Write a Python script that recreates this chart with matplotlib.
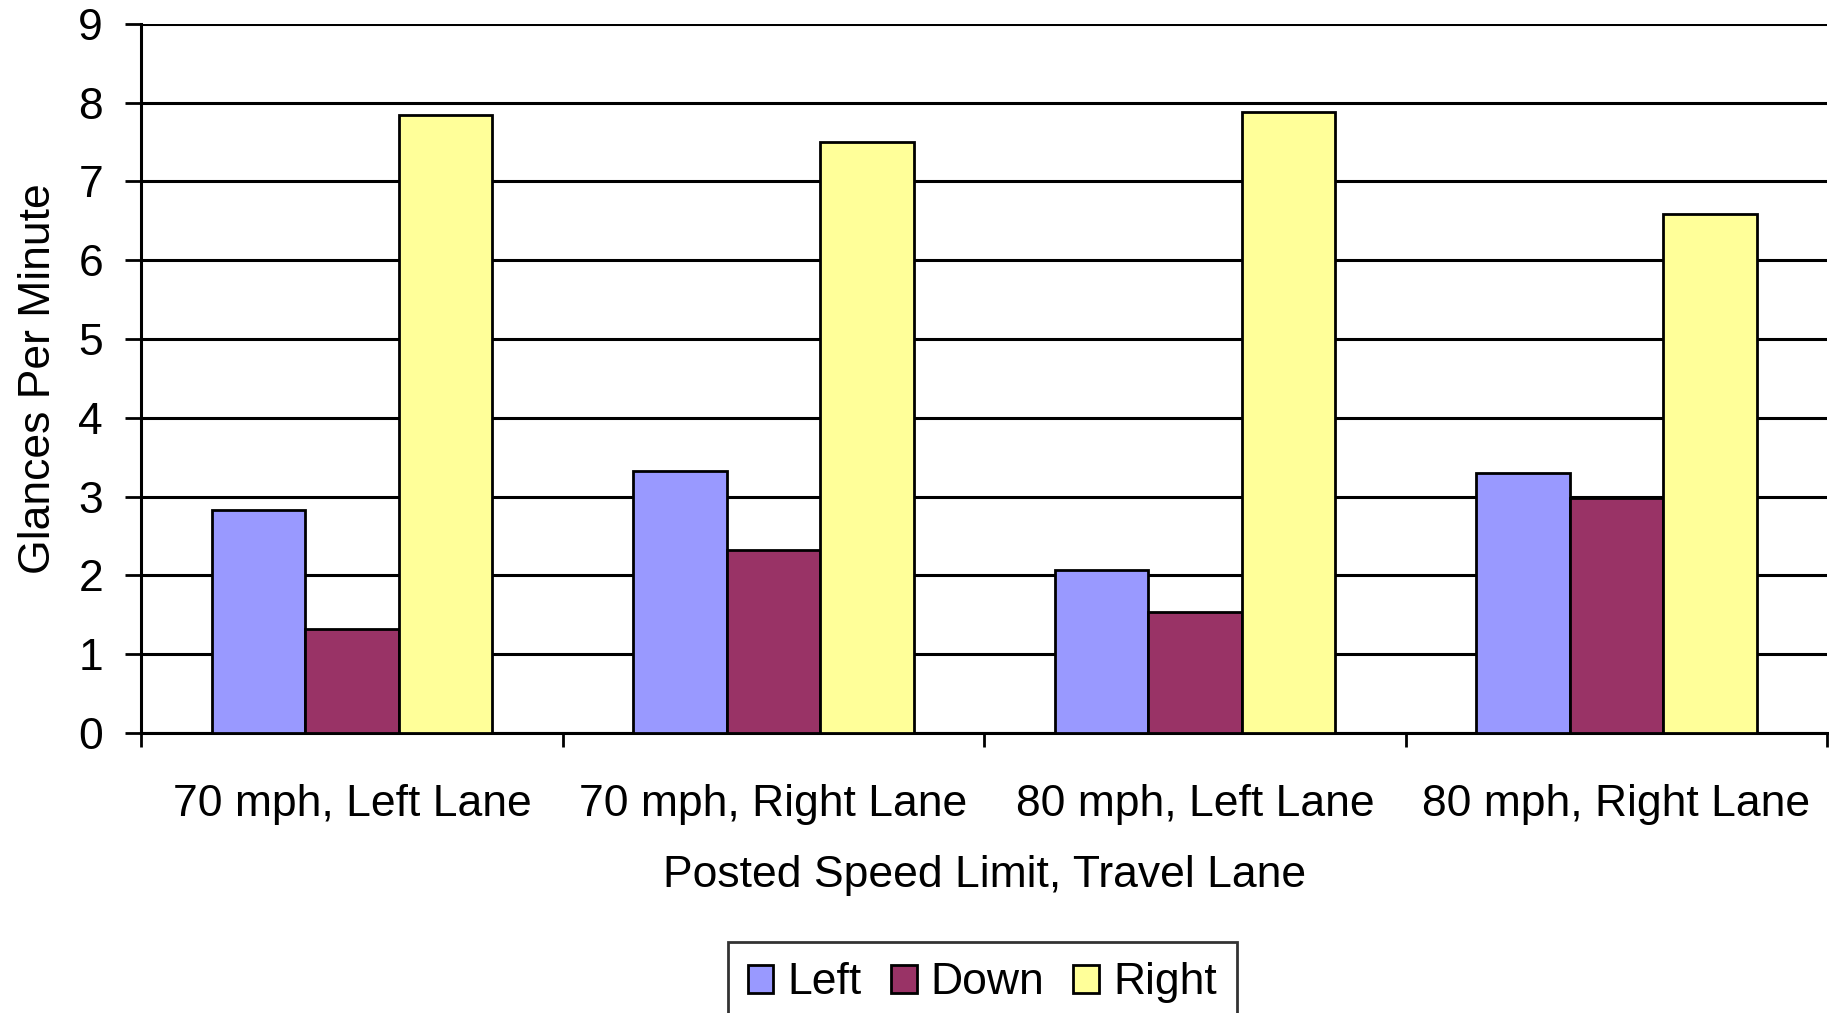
#!/usr/bin/env python

import numpy as np
import matplotlib
matplotlib.use('Agg')
import matplotlib.pyplot as plt

# data
categories = ['70 mph, Left Lane', '70 mph, Right Lane', '80 mph, Left Lane', '80 mph, Right Lane']
left = [2.83, 3.33, 2.07, 3.30]
down = [1.32, 2.32, 1.54, 2.98]
right = [7.85, 7.50, 7.88, 6.59]
series_names = ['Left', 'Down', 'Right']
colors = ['#9999FF', '#993366', '#FFFF99']

plt.rcParams['font.family'] = ['Liberation Sans', 'DejaVu Sans']
FS = 32

fig = plt.figure(figsize=(18.29, 10.13), dpi=100)
ax = fig.add_axes([0.0772, 0.2764, 0.9218, 0.7000])

x = np.arange(len(categories))
w = 0.2216
for i, (vals, name) in enumerate(zip([left, down, right], series_names)):
	ax.bar(x + (i - 1) * w, vals, width=w, color=colors[i], edgecolor='black',
		linewidth=2, label=name, zorder=3)

ax.set_xlim(-0.5, len(categories) - 0.5)
ax.set_ylim(0, 9)
ax.set_yticks(range(0, 10))
ax.grid(axis='y', color='black', linewidth=2.2, zorder=1)
ax.set_axisbelow(True)

# category labels between boundary ticks
ax.set_xticks(np.arange(-0.5, len(categories)), minor=False)
ax.set_xticklabels([])
ax.set_xticks(x, minor=True)
ax.set_xticklabels(categories, minor=True)
ax.tick_params(axis='x', which='major', length=10, width=2, direction='out')
ax.tick_params(axis='x', which='minor', length=0, pad=36.5, labelsize=FS)
ax.tick_params(axis='y', length=11.5, width=2, pad=16, labelsize=FS)

for s in ['top', 'right']:
	ax.spines[s].set_visible(False)
for s in ['left', 'bottom']:
	ax.spines[s].set_linewidth(2.2)

ax.set_ylabel('Glances Per Minute', fontsize=FS, labelpad=14)
ax.set_xlabel('Posted Speed Limit, Travel Lane', fontsize=FS, labelpad=22)

leg = fig.legend(loc='upper center', bbox_to_anchor=(0.537, 0.0696), ncol=3,
	fontsize=FS, frameon=True, fancybox=False, edgecolor='black',
	handlelength=0.58, handleheight=0.58, handletextpad=0.31, columnspacing=0.66,
	borderpad=0.45, borderaxespad=0)
leg.get_frame().set_linewidth(2)

fig.savefig('out.png', dpi=100)
